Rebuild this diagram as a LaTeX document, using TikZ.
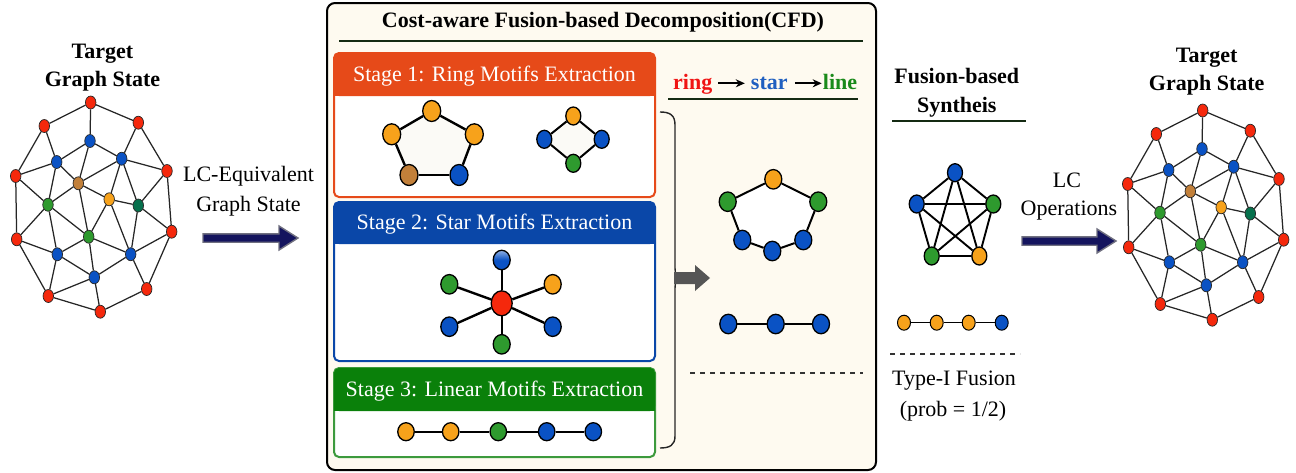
\documentclass[tikz,border=0pt]{standalone}
\usepackage{fontspec}
\setmainfont{Liberation Serif}
\usetikzlibrary{shapes.geometric, arrows.meta, calc}

\definecolor{gred}{HTML}{F5280C}
\definecolor{gblue}{HTML}{0A52C4}
\definecolor{ggreen}{HTML}{2E9A2E}
\definecolor{gdkgreen}{HTML}{06704C}
\definecolor{gbrown}{HTML}{C2803A}
\definecolor{gorange}{HTML}{F7A21B}
\definecolor{cream}{HTML}{FEFAF0}
\definecolor{rulegreen}{HTML}{142A12}
\definecolor{s1col}{HTML}{E64A19}
\definecolor{s2col}{HTML}{0A47A8}
\definecolor{s3col}{HTML}{0A800A}
\definecolor{s3edge}{HTML}{3C9A3C}
\definecolor{navy}{HTML}{14145E}
\definecolor{navyedge}{HTML}{707080}
\definecolor{blockgray}{HTML}{555555}
\definecolor{ringred}{HTML}{F01414}
\definecolor{starblue}{HTML}{1F5FC0}
\definecolor{linegreen}{HTML}{1A8A1A}
\definecolor{polyfill}{HTML}{FBFAF6}

\tikzset{
  txt/.style={inner sep=0, font=\fontsize{22}{26}\selectfont},
  btxt/.style={inner sep=0, font=\fontsize{22}{26}\selectfont\bfseries},
  gv/.style={ellipse, draw=black!85, line width=0.7pt, minimum width=10.5pt,
             minimum height=13pt, inner sep=0},
  ge/.style={draw=black!85, line width=1.25pt},
  mv/.style={ellipse, draw=black, line width=1.3pt, minimum width=17pt,
             minimum height=19.5pt, inner sep=0},
  me/.style={draw=black, line width=2.4pt},
  thinme/.style={draw=black, line width=1.6pt},
  headrule/.style={draw=rulegreen, line width=2.2pt},
  sepdash/.style={draw=black!80, line width=1.8pt, dash pattern=on 5pt off 5pt},
  navyarrow/.style={fill=navy, draw=navyedge, line width=1.4pt, line join=miter},
  smallarr/.style={draw=black, line width=2pt, -{Stealth[length=9pt,width=8pt]}},
}

% the target graph state, drawn with a name prefix and a shift
\newcommand\targetgraph[3]{%
  \begin{scope}[shift={(#2,#3)}]
    \node[gv,fill=gred]     (#1R1)  at (90.7,102.5) {};
    \node[gv,fill=gred]     (#1R2)  at (44.3,126)   {};
    \node[gv,fill=gred]     (#1R3)  at (138.3,122.7){};
    \node[gv,fill=gblue]    (#1B1)  at (90,141)     {};
    \node[gv,fill=gblue]    (#1B2)  at (56.7,162)   {};
    \node[gv,fill=gblue]    (#1B3)  at (121.7,158.7){};
    \node[gv,fill=gred]     (#1R4)  at (15.7,176)   {};
    \node[gv,fill=gred]     (#1R5)  at (167,171)    {};
    \node[gv,fill=gbrown]   (#1Br)  at (78.3,183.3) {};
    \node[gv,fill=gorange]  (#1Or)  at (109.2,199.3){};
    \node[gv,fill=ggreen]   (#1G1)  at (48,204.7)   {};
    \node[gv,fill=gdkgreen] (#1DG)  at (138.3,205.5){};
    \node[gv,fill=gred]     (#1R6)  at (16.7,239.3) {};
    \node[gv,fill=gred]     (#1R7)  at (171.7,231.7){};
    \node[gv,fill=ggreen]   (#1G2)  at (88.7,236.7) {};
    \node[gv,fill=gblue]    (#1B4)  at (57.3,254.3) {};
    \node[gv,fill=gblue]    (#1B5)  at (130.7,254.2){};
    \node[gv,fill=gblue]    (#1B6)  at (94.3,277.3) {};
    \node[gv,fill=gred]     (#1R8)  at (48.3,296)   {};
    \node[gv,fill=gred]     (#1R9)  at (146.7,289)  {};
    \node[gv,fill=gred]     (#1R10) at (100.3,311.7){};
  \end{scope}
  \foreach \a/\b in {R1/R2,R1/R3,R1/B1,R2/R4,R2/B2,R3/B3,R3/R5,B1/B2,B1/B3,B1/Br,
      B2/R4,B2/Br,B2/G1,B3/Br,B3/Or,B3/DG,B3/R5,R4/G1,R4/R6,Br/G1,Br/Or,Br/G2,
      Or/G2,Or/DG,Or/B5,DG/R5,DG/B5,DG/R7,R5/R7,G1/R6,G1/B4,G1/G2,R6/B4,R6/R8,
      G2/B4,G2/B5,G2/B6,R7/B5,R7/R9,B4/B6,B4/R8,B5/B6,B5/R9,B6/R8,B6/R10,
      R8/R10,R9/R10}
    \draw[ge] (#1\a) -- (#1\b);
}

\begin{document}
\begin{tikzpicture}[x=1pt,y=-1pt]
\useasboundingbox (0,0) rectangle (1296,472);

% ---------------- left: target graph ----------------
\node[btxt,anchor=base] (ltitleA) at (102.5,58.3) {Target};
\node[btxt,anchor=base] (ltitleB) at (102.5,86)   {Graph State};
\targetgraph{L}{0}{0}

\node[txt,anchor=base] (lceqA) at (248.5,181.7) {LC-Equivalent};
\node[txt,anchor=base] (lceqB) at (248.5,211)   {Graph State};

\coordinate (arrA) at (203,238);
\filldraw[navyarrow] (arrA) ++(0,-4.2) -- ++(76,0) -- ++(0,-7.8) -- ++(19,12)
   -- ++(-19,12) -- ++(0,-7.8) -- ++(-76,0) -- cycle;

% ---------------- CFD frame ----------------
\draw[fill=cream, draw=black, line width=2pt, rounded corners=8pt]
  (327,3) rectangle (876,470);
\node[btxt,anchor=base] (cfdtitle) at (603,27.7)
  {Cost-aware Fusion-based Decomposition(CFD)};
\draw[headrule] (339,41) -- (863,41);

% stage 1
\draw[s1col, line width=2pt, fill=white, rounded corners=5pt] (334,53) rectangle (655,197);
\fill[s1col, rounded corners=5pt] (334,53) rectangle (655,96);
\fill[s1col] (334,86) rectangle (655,96);
\node[txt,anchor=base,text=white] (st1) at (494.5,81) {Stage 1: Ring Motifs Extraction};

\coordinate (p1) at (431.7,111);
\coordinate (p2) at (474.3,134.3);
\coordinate (p3) at (459,175);
\coordinate (p4) at (409,175);
\coordinate (p5) at (391.7,134.3);
\fill[polyfill] (p1) -- (p2) -- (p3) -- (p4) -- (p5) -- cycle;
\node[mv,fill=gorange,minimum width=18pt,minimum height=21pt] (P1) at (p1) {};
\node[mv,fill=gorange,minimum width=18pt,minimum height=21pt] (P2) at (p2) {};
\node[mv,fill=gblue,minimum width=18pt,minimum height=21pt]   (P3) at (p3) {};
\node[mv,fill=gbrown,minimum width=18pt,minimum height=21pt]  (P4) at (p4) {};
\node[mv,fill=gorange,minimum width=18pt,minimum height=21pt] (P5) at (p5) {};
\foreach \a/\b in {P1/P2,P2/P3,P3/P4,P4/P5,P5/P1} \draw[me] (\a) -- (\b);

\coordinate (d1) at (573.3,116);
\coordinate (d2) at (601.7,139.3);
\coordinate (d3) at (573.3,163.3);
\coordinate (d4) at (544.3,139.3);
\fill[polyfill] (d1) -- (d2) -- (d3) -- (d4) -- cycle;
\node[mv,fill=gorange,minimum width=15pt,minimum height=18pt] (D1) at (d1) {};
\node[mv,fill=gblue,minimum width=15pt,minimum height=18pt]   (D2) at (d2) {};
\node[mv,fill=ggreen,minimum width=15pt,minimum height=18pt]  (D3) at (d3) {};
\node[mv,fill=gblue,minimum width=15pt,minimum height=18pt]   (D4) at (d4) {};
\foreach \a/\b in {D1/D2,D2/D3,D3/D4,D4/D1} \draw[me,line width=2pt] (\a) -- (\b);

% stage 2
\draw[s2col, line width=2pt, fill=white, rounded corners=5pt] (334,202) rectangle (655,361);
\fill[s2col, rounded corners=5pt] (334,202) rectangle (655,244);
\fill[s2col] (334,234) rectangle (655,244);
\node[txt,anchor=base,text=white] (st2) at (494.5,229.3) {Stage 2: Star Motifs Extraction};

\node[mv,fill=gred,minimum width=21pt,minimum height=25pt] (SC) at (501.7,303.3) {};
\node[mv,fill=gblue,  top color=gblue!45!white, bottom color=gblue, middle color=gblue]
   (S1) at (501.7,260) {};
\node[mv,fill=ggreen]  (S2) at (449.3,284.3) {};
\node[mv,fill=gorange] (S3) at (552.7,284.3) {};
\node[mv,fill=gblue]   (S4) at (449.3,326.7) {};
\node[mv,fill=gblue]   (S5) at (552.7,326.7) {};
\node[mv,fill=ggreen]  (S6) at (501.7,344.3) {};
\foreach \b in {S1,S2,S3,S4,S5,S6} \draw[me] (SC) -- (\b);

% stage 3
\draw[s3edge, line width=2pt, fill=white, rounded corners=5pt] (334,368) rectangle (655,457);
\fill[s3col, rounded corners=5pt] (334,368) rectangle (655,411);
\fill[s3col] (334,401) rectangle (655,411);
\node[txt,anchor=base,text=white] (st3) at (494.5,396.7) {Stage 3: Linear Motifs Extraction};

\node[mv,fill=gorange,minimum width=16.5pt,minimum height=18pt] (L1) at (406,431.7) {};
\node[mv,fill=gorange,minimum width=16.5pt,minimum height=18pt] (L2) at (450.7,431.7) {};
\node[mv,fill=ggreen,minimum width=16.5pt,minimum height=18pt]  (L3) at (498.3,431.7) {};
\node[mv,fill=gblue,minimum width=16.5pt,minimum height=18pt]   (L4) at (546.7,431.7) {};
\node[mv,fill=gblue,minimum width=16.5pt,minimum height=18pt]   (L5) at (593.3,431.7) {};
\foreach \a/\b in {L1/L2,L2/L3,L3/L4,L4/L5} \draw[thinme] (\a) -- (\b);

% ordering of motifs
\node[btxt,anchor=base,text=ringred]   (wring) at (692.7,89.3) {ring};
\node[btxt,anchor=base,text=starblue]  (wstar) at (769.3,89.3) {star};
\node[btxt,anchor=base,text=linegreen] (wline) at (840,89.3)   {line};
\draw[smallarr] ($(wring.base east)+(6,-6)$) -- ($(wstar.base west)+(-6,-6)$);
\draw[smallarr] ($(wstar.base east)+(7,-6)$) -- ($(wline.base west)+(-1,-6)$);
\draw[headrule] (668,99.3) -- (858,99.3);

% brace collecting the stages
\draw[line width=1.4pt, black!85]
  (660,112) .. controls (670,112) and (675,115) .. (675,125) -- (675,268)
  .. controls (675,275) and (677,278) .. (680,278)
  .. controls (677,278) and (675,281) .. (675,288) -- (675,436)
  .. controls (675,445) and (670,448) .. (660,448);
\coordinate (garr) at (674,278);
\fill[blockgray] (garr) ++(0,-6) -- ++(21,0) -- ++(0,-7) -- ++(15,13)
   -- ++(-15,13) -- ++(0,-7) -- ++(-21,0) -- cycle;

% extracted motifs
\coordinate (h1) at (773.3,179.3);
\coordinate (h2) at (818.3,201.7);
\coordinate (h3) at (803.3,240);
\coordinate (h4) at (772.3,251);
\coordinate (h5) at (742.3,240);
\coordinate (h6) at (727.7,201.7);
\fill[white] (h1) -- (h2) -- (h3) -- (h4) -- (h5) -- (h6) -- cycle;
\node[mv,fill=gorange] (H1) at (h1) {};
\node[mv,fill=ggreen]  (H2) at (h2) {};
\node[mv,fill=gblue]   (H3) at (h3) {};
\node[mv,fill=gblue]   (H4) at (h4) {};
\node[mv,fill=gblue]   (H5) at (h5) {};
\node[mv,fill=ggreen]  (H6) at (h6) {};
\foreach \a/\b in {H1/H2,H2/H3,H3/H4,H4/H5,H5/H6,H6/H1} \draw[me,line width=2pt] (\a) -- (\b);

\node[mv,fill=gblue] (M1) at (728.3,324) {};
\node[mv,fill=gblue] (M2) at (775.7,324) {};
\node[mv,fill=gblue] (M3) at (821,324) {};
\draw[me,line width=2pt] (M1) -- (M2);
\draw[me,line width=2pt] (M2) -- (M3);

\coordinate (dashA1) at (690,373.3);
\coordinate (dashA2) at (863.3,373.3);
\draw[sepdash] (dashA1) -- (dashA2);

% ---------------- fusion-based synthesis ----------------
\node[btxt,anchor=base] (fsA) at (956.8,83.3)  {Fusion-based};
\node[btxt,anchor=base] (fsB) at (956.8,112.3) {Syntheis};
\draw[headrule] (892,121) -- (1026,121);

\node[mv,fill=gblue,  minimum width=15pt,minimum height=18pt] (K1) at (955,172.7) {};
\node[mv,fill=ggreen, minimum width=15pt,minimum height=18pt] (K2) at (993.3,204) {};
\node[mv,fill=gorange,minimum width=15pt,minimum height=18pt] (K3) at (979.3,256) {};
\node[mv,fill=ggreen, minimum width=15pt,minimum height=18pt] (K4) at (931.7,256) {};
\node[mv,fill=gblue,  minimum width=15pt,minimum height=18pt] (K5) at (916.7,204) {};
\foreach \a/\b in {K1/K2,K1/K3,K1/K4,K1/K5,K2/K3,K2/K4,K2/K5,K3/K4,K3/K5,K4/K5}
  \draw[me,line width=1.9pt] (\a) -- (\b);

\node[mv,fill=gorange,line width=1pt,minimum width=13pt,minimum height=15pt] (F1) at (904,322.7) {};
\node[mv,fill=gorange,line width=1pt,minimum width=13pt,minimum height=15pt] (F2) at (936.7,322.7) {};
\node[mv,fill=gorange,line width=1pt,minimum width=13pt,minimum height=15pt] (F3) at (968.7,322.7) {};
\node[mv,fill=gblue,  line width=1pt,minimum width=13pt,minimum height=15pt] (F4) at (1001.7,322.7) {};
\foreach \a/\b in {F1/F2,F2/F3,F3/F4} \draw[thinme,line width=1.4pt] (\a) -- (\b);

\coordinate (dashB1) at (890,354);
\coordinate (dashB2) at (1020,354);
\draw[sepdash] (dashB1) -- (dashB2);
\node[txt,anchor=base] (fusA) at (954,385.7)   {Type-I Fusion};
\node[txt,anchor=base] (fusB) at (953,416.5)   {(prob = 1/2)};

% ---------------- LC operations and result ----------------
\node[txt,anchor=base] (lcA) at (1067,187.3) {LC};
\node[txt,anchor=base] (lcB) at (1069,215.7) {Operations};

\coordinate (arrB) at (1022,241);
\filldraw[navyarrow] (arrB) ++(0,-4.2) -- ++(75,0) -- ++(0,-7.8) -- ++(19,12)
   -- ++(-19,12) -- ++(0,-7.8) -- ++(-75,0) -- cycle;

\node[btxt,anchor=base] (rtitleA) at (1206.7,62) {Target};
\node[btxt,anchor=base] (rtitleB) at (1206.7,90) {Graph State};
\targetgraph{R}{1112}{8}

\end{tikzpicture}
\end{document}
